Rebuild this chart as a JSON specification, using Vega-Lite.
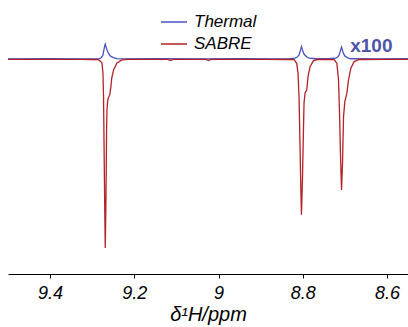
{
  "$schema": "https://vega.github.io/schema/vega-lite/v6.json",
  "width": 400,
  "height": 274,
  "autosize": {"type": "none"},
  "padding": {"left": 8, "top": 0, "right": 0, "bottom": 53},
  "config": {"view": {"stroke": null}, "font": "Liberation Sans"},
  "datasets": {
    "spec": [
      {"ppm": 9.50, "i": 0, "series": "Thermal"},
      {"ppm": 9.40, "i": 0.001, "series": "Thermal"},
      {"ppm": 9.33, "i": 0, "series": "Thermal"},
      {"ppm": 9.29, "i": 0, "series": "Thermal"},
      {"ppm": 9.2826, "i": 0.002, "series": "Thermal"},
      {"ppm": 9.2780, "i": 0.008, "series": "Thermal"},
      {"ppm": 9.2745, "i": 0.021, "series": "Thermal"},
      {"ppm": 9.2714, "i": 0.057, "series": "Thermal"},
      {"ppm": 9.2702, "i": 0.071, "series": "Thermal"},
      {"ppm": 9.2690, "i": 0.079, "series": "Thermal"},
      {"ppm": 9.2679, "i": 0.069, "series": "Thermal"},
      {"ppm": 9.2650, "i": 0.048, "series": "Thermal"},
      {"ppm": 9.2610, "i": 0.028, "series": "Thermal"},
      {"ppm": 9.2571, "i": 0.016, "series": "Thermal"},
      {"ppm": 9.2500, "i": 0.007, "series": "Thermal"},
      {"ppm": 9.2412, "i": 0.002, "series": "Thermal"},
      {"ppm": 9.2333, "i": 0, "series": "Thermal"},
      {"ppm": 9.15, "i": 0.001, "series": "Thermal"},
      {"ppm": 9.05, "i": 0, "series": "Thermal"},
      {"ppm": 8.95, "i": 0.001, "series": "Thermal"},
      {"ppm": 8.87, "i": 0, "series": "Thermal"},
      {"ppm": 8.83, "i": 0.001, "series": "Thermal"},
      {"ppm": 8.8190, "i": 0.004, "series": "Thermal"},
      {"ppm": 8.8130, "i": 0.010, "series": "Thermal"},
      {"ppm": 8.8088, "i": 0.021, "series": "Thermal"},
      {"ppm": 8.8048, "i": 0.051, "series": "Thermal"},
      {"ppm": 8.8031, "i": 0.065, "series": "Thermal"},
      {"ppm": 8.8007, "i": 0.048, "series": "Thermal"},
      {"ppm": 8.7980, "i": 0.031, "series": "Thermal"},
      {"ppm": 8.7952, "i": 0.021, "series": "Thermal"},
      {"ppm": 8.7900, "i": 0.010, "series": "Thermal"},
      {"ppm": 8.7850, "i": 0.004, "series": "Thermal"},
      {"ppm": 8.7690, "i": 0.001, "series": "Thermal"},
      {"ppm": 8.7400, "i": 0.001, "series": "Thermal"},
      {"ppm": 8.7214, "i": 0.004, "series": "Thermal"},
      {"ppm": 8.7160, "i": 0.012, "series": "Thermal"},
      {"ppm": 8.7136, "i": 0.021, "series": "Thermal"},
      {"ppm": 8.7095, "i": 0.051, "series": "Thermal"},
      {"ppm": 8.7079, "i": 0.063, "series": "Thermal"},
      {"ppm": 8.7055, "i": 0.044, "series": "Thermal"},
      {"ppm": 8.7030, "i": 0.028, "series": "Thermal"},
      {"ppm": 8.7000, "i": 0.016, "series": "Thermal"},
      {"ppm": 8.6930, "i": 0.006, "series": "Thermal"},
      {"ppm": 8.6857, "i": 0.001, "series": "Thermal"},
      {"ppm": 8.62, "i": 0, "series": "Thermal"},
      {"ppm": 8.55, "i": 0.001, "series": "Thermal"},
      {"ppm": 9.50, "i": -0.002, "series": "SABRE"},
      {"ppm": 9.40, "i": -0.002, "series": "SABRE"},
      {"ppm": 9.33, "i": -0.002, "series": "SABRE"},
      {"ppm": 9.30, "i": -0.003, "series": "SABRE"},
      {"ppm": 9.2857, "i": -0.004, "series": "SABRE"},
      {"ppm": 9.2810, "i": -0.011, "series": "SABRE"},
      {"ppm": 9.2769, "i": -0.021, "series": "SABRE"},
      {"ppm": 9.2745, "i": -0.074, "series": "SABRE"},
      {"ppm": 9.2731, "i": -0.201, "series": "SABRE"},
      {"ppm": 9.2714, "i": -0.550, "series": "SABRE"},
      {"ppm": 9.2702, "i": -0.799, "series": "SABRE"},
      {"ppm": 9.2690, "i": -1.0, "series": "SABRE"},
      {"ppm": 9.2674, "i": -0.746, "series": "SABRE"},
      {"ppm": 9.2667, "i": -0.587, "series": "SABRE"},
      {"ppm": 9.2660, "i": -0.400, "series": "SABRE"},
      {"ppm": 9.2650, "i": -0.270, "series": "SABRE"},
      {"ppm": 9.2631, "i": -0.217, "series": "SABRE"},
      {"ppm": 9.2607, "i": -0.201, "series": "SABRE"},
      {"ppm": 9.2583, "i": -0.190, "series": "SABRE"},
      {"ppm": 9.2560, "i": -0.153, "series": "SABRE"},
      {"ppm": 9.2536, "i": -0.101, "series": "SABRE"},
      {"ppm": 9.2493, "i": -0.058, "series": "SABRE"},
      {"ppm": 9.2412, "i": -0.021, "series": "SABRE"},
      {"ppm": 9.2293, "i": -0.005, "series": "SABRE"},
      {"ppm": 9.2143, "i": -0.002, "series": "SABRE"},
      {"ppm": 9.12, "i": -0.002, "series": "SABRE"},
      {"ppm": 9.114, "i": -0.008, "series": "SABRE"},
      {"ppm": 9.108, "i": -0.002, "series": "SABRE"},
      {"ppm": 9.03, "i": -0.002, "series": "SABRE"},
      {"ppm": 9.024, "i": -0.008, "series": "SABRE"},
      {"ppm": 9.018, "i": -0.002, "series": "SABRE"},
      {"ppm": 8.90, "i": -0.002, "series": "SABRE"},
      {"ppm": 8.83, "i": -0.003, "series": "SABRE"},
      {"ppm": 8.8207, "i": -0.004, "series": "SABRE"},
      {"ppm": 8.8143, "i": -0.023, "series": "SABRE"},
      {"ppm": 8.8112, "i": -0.074, "series": "SABRE"},
      {"ppm": 8.8088, "i": -0.199, "series": "SABRE"},
      {"ppm": 8.8064, "i": -0.464, "series": "SABRE"},
      {"ppm": 8.8048, "i": -0.656, "series": "SABRE"},
      {"ppm": 8.8031, "i": -0.825, "series": "SABRE"},
      {"ppm": 8.8007, "i": -0.640, "series": "SABRE"},
      {"ppm": 8.7983, "i": -0.376, "series": "SABRE"},
      {"ppm": 8.7969, "i": -0.233, "series": "SABRE"},
      {"ppm": 8.7945, "i": -0.180, "series": "SABRE"},
      {"ppm": 8.7905, "i": -0.164, "series": "SABRE"},
      {"ppm": 8.7874, "i": -0.094, "series": "SABRE"},
      {"ppm": 8.7826, "i": -0.041, "series": "SABRE"},
      {"ppm": 8.7745, "i": -0.009, "series": "SABRE"},
      {"ppm": 8.7650, "i": -0.003, "series": "SABRE"},
      {"ppm": 8.7400, "i": -0.003, "series": "SABRE"},
      {"ppm": 8.7255, "i": -0.004, "series": "SABRE"},
      {"ppm": 8.7190, "i": -0.023, "series": "SABRE"},
      {"ppm": 8.7150, "i": -0.111, "series": "SABRE"},
      {"ppm": 8.7126, "i": -0.286, "series": "SABRE"},
      {"ppm": 8.7102, "i": -0.517, "series": "SABRE"},
      {"ppm": 8.7079, "i": -0.693, "series": "SABRE"},
      {"ppm": 8.7055, "i": -0.550, "series": "SABRE"},
      {"ppm": 8.7031, "i": -0.305, "series": "SABRE"},
      {"ppm": 8.7000, "i": -0.226, "series": "SABRE"},
      {"ppm": 8.6952, "i": -0.181, "series": "SABRE"},
      {"ppm": 8.6912, "i": -0.111, "series": "SABRE"},
      {"ppm": 8.6857, "i": -0.049, "series": "SABRE"},
      {"ppm": 8.6779, "i": -0.014, "series": "SABRE"},
      {"ppm": 8.6660, "i": -0.003, "series": "SABRE"},
      {"ppm": 8.60, "i": -0.002, "series": "SABRE"},
      {"ppm": 8.55, "i": -0.002, "series": "SABRE"}
    ],
    "label": [{"ppm": 8.637, "i": 0.0386, "t": "x100"}]
  },
  "layer": [
    {
      "data": {"name": "spec"},
      "transform": [{"filter": "datum.series === 'Thermal'"}],
      "mark": {"type": "line", "strokeWidth": 1.3, "clip": true},
      "encoding": {
        "x": {"field": "ppm", "type": "quantitative", "scale": {"domain": [9.5, 8.55], "nice": false, "zero": false},
          "axis": {"values": [9.4, 9.2, 9, 8.8, 8.6], "format": "~g", "grid": false, "domainColor": "black", "tickColor": "black", "tickSize": 4, "labelFontSize": 18, "labelFontStyle": "italic", "labelColor": "black", "labelPadding": 6, "title": "δ¹H/ppm", "titleFontSize": 20, "titleFontStyle": "italic", "titleFontWeight": "normal", "titleColor": "black", "titlePadding": 2}},
        "y": {"field": "i", "type": "quantitative", "scale": {"domain": [-1.138, 0.312], "nice": false, "zero": false}, "axis": null},
        "color": {"field": "series", "type": "nominal", "scale": {"domain": ["Thermal", "SABRE"], "range": ["#4a52c0", "#b42227"]},
          "legend": {"orient": "none", "legendX": 152, "legendY": 8, "title": null, "padding": 0, "symbolType": "stroke", "symbolSize": 676, "symbolStrokeWidth": 1.5, "labelFontSize": 17, "labelFontStyle": "italic", "labelColor": "black", "labelOffset": 6, "rowPadding": -4}}
      }
    },
    {
      "data": {"name": "spec"},
      "transform": [{"filter": "datum.series === 'SABRE'"}],
      "mark": {"type": "line", "strokeWidth": 1.3, "clip": true},
      "encoding": {
        "x": {"field": "ppm", "type": "quantitative"},
        "y": {"field": "i", "type": "quantitative"},
        "color": {"field": "series", "type": "nominal"}
      }
    },
    {
      "data": {"name": "label"},
      "mark": {"type": "text", "fontWeight": "bold", "fontSize": 19, "color": "#4d55a8", "baseline": "alphabetic", "align": "center"},
      "encoding": {
        "x": {"field": "ppm", "type": "quantitative"},
        "y": {"field": "i", "type": "quantitative"},
        "text": {"field": "t"}
      }
    }
  ]
}
